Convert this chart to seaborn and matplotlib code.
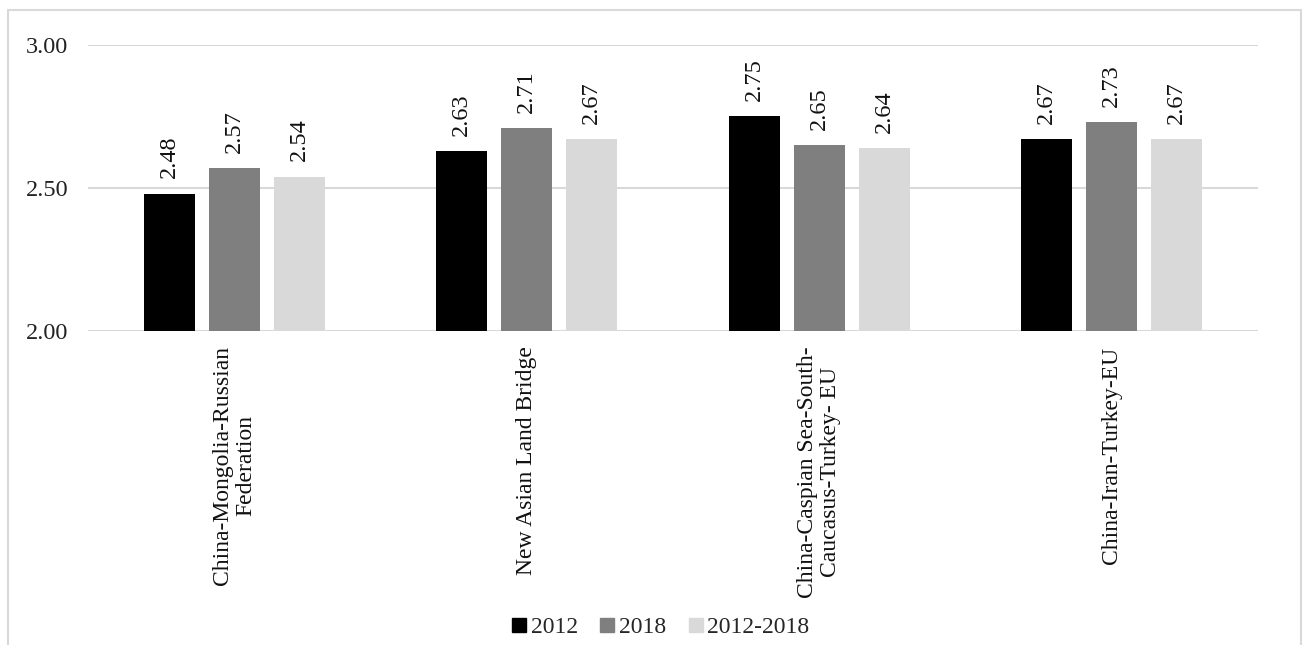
import matplotlib
matplotlib.use("Agg")
import matplotlib.pyplot as plt
import seaborn as sns
import pandas as pd
from matplotlib.patches import Rectangle
from matplotlib.lines import Line2D

categories = ["China-Mongolia-Russian\nFederation", "New Asian Land Bridge",
              "China-Caspian Sea-South-\nCaucasus-Turkey- EU", "China-Iran-Turkey-EU"]
series = ["2012", "2018", "2012-2018"]
v2012 = [2.48, 2.63, 2.75, 2.67]
v2018 = [2.57, 2.71, 2.65, 2.73]
v1218 = [2.54, 2.67, 2.64, 2.67]
yticks = [2.00, 2.50, 3.00]

colors = ["#000000", "#7f7f7f", "#d9d9d9"]

rows = []
for s, vals in zip(series, [v2012, v2018, v1218]):
    for c, v in zip(categories, vals):
        rows.append({"cat": c, "series": s, "value": v})
df = pd.DataFrame(rows)

sns.set_theme(style="white")
plt.rcParams["font.family"] = ["Liberation Serif", "DejaVu Serif"]

fig = plt.figure(figsize=(13.03, 6.45), dpi=100)
ax = fig.add_axes([88/1303, 1-331/645, (1258-88)/1303, (331-45)/645])

sns.barplot(data=df, x="cat", y="value", hue="series", order=categories,
            hue_order=series, palette=colors, width=0.667, gap=0.216,
            ax=ax, legend=False, edgecolor="none", linewidth=0, zorder=3)

ax.set_ylim(2.0, 3.0)
ax.set_xlim(-0.5, 3.5)
ax.set_yticks(yticks)
ax.set_yticklabels([f"{t:.2f}" for t in yticks], fontsize=17.5, color="#222222")
ax.tick_params(axis="y", length=0, pad=14)
ax.tick_params(axis="x", length=0, pad=11)
ax.set_xticks(range(len(categories)))
ax.set_xticklabels(categories, rotation=90, fontsize=17, color="#111111",
                   ha="center", va="top", multialignment="center",
                   linespacing=1.1)
ax.set_xlabel("")
ax.set_ylabel("")
for y in yticks:
    ax.axhline(y, color="#d9d9d9", lw=1.5, zorder=1)
for sp in ax.spines.values():
    sp.set_visible(False)

for container in ax.containers:
    labels = [f"{b.get_height():.2f}" for b in container]
    ax.bar_label(container, labels=labels, rotation=90, padding=11,
                 fontsize=17.5, color="#111111")

handles = [Line2D([0], [0], marker="s", linestyle="none", markersize=9.5,
                  markerfacecolor=c, markeredgecolor=c) for c in colors]
fig.legend(handles, series, loc="center", bbox_to_anchor=(660/1303, 1-627/645),
           ncol=3, frameon=False, fontsize=17, handletextpad=0.15,
           columnspacing=0.9, handlelength=0.7)

fig.patches.append(Rectangle((8/1303, -0.05), (1301-8)/1303, 1.05-10/645,
                             transform=fig.transFigure, fill=False,
                             edgecolor="#d9d9d9", lw=1.5))

fig.savefig("out.png", dpi=100)
